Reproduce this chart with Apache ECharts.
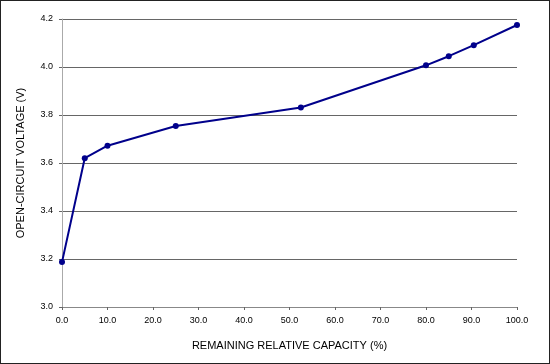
<!DOCTYPE html>
<html><head><meta charset="utf-8">
<script src="https://cdn.jsdelivr.net/npm/echarts@6/dist/echarts.min.js"></script>
<style>html,body{margin:0;padding:0;background:#fff}#c{width:550px;height:364px;box-sizing:border-box;border:1px solid #222}</style>
</head><body><div id="c"></div>
<script>
const capacity = [0, 5, 10, 25, 52.5, 80, 85, 90.5, 100];
const voltage = [3.187, 3.62, 3.672, 3.754, 3.831, 4.007, 4.045, 4.091, 4.175];
const xTitle = 'REMAINING RELATIVE CAPACITY (%)';
const yTitle = 'OPEN-CIRCUIT VOLTAGE (V)';
const chart = echarts.init(document.getElementById('c'));
const font = 'Liberation Sans, Arial, sans-serif';
chart.setOption({
  animation: false,
  grid: {left: 61, right: 32, top: 18, bottom: 56},
  xAxis: {
    type: 'value', min: 0, max: 100, interval: 10,
    name: xTitle, nameLocation: 'middle', nameGap: 33,
    nameTextStyle: {fontFamily: font, fontSize: 11, color: '#000'},
    axisLine: {lineStyle: {color: '#888', width: 1}},
    axisTick: {show: true, length: 3, lineStyle: {color: '#666'}},
    axisLabel: {fontFamily: font, fontSize: 9, color: '#000', margin: 9, formatter: v => v.toFixed(1)},
    splitLine: {show: false}
  },
  yAxis: {
    type: 'value', min: 3.0, max: 4.2, interval: 0.2,
    name: yTitle, nameLocation: 'middle', nameGap: 36,
    nameTextStyle: {fontFamily: font, fontSize: 11, color: '#000'},
    axisLine: {show: true, lineStyle: {color: '#aaa', width: 1}},
    axisTick: {show: true, length: 3, lineStyle: {color: '#666'}},
    axisLabel: {fontFamily: font, fontSize: 9, color: '#000', margin: 9, formatter: v => v.toFixed(1)},
    splitLine: {show: true, lineStyle: {color: '#666', width: 1}}
  },
  series: [{
    type: 'line',
    data: capacity.map((c, i) => [c, voltage[i]]),
    symbol: 'circle', symbolSize: 6,
    lineStyle: {color: '#00008b', width: 2},
    itemStyle: {color: '#00008b'}
  }]
});
</script></body></html>
